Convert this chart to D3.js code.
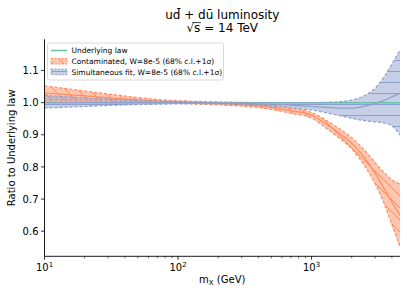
<!DOCTYPE html>
<html>
<head>
<meta charset="utf-8">
<script src="https://cdn.jsdelivr.net/npm/d3@7"></script>
<style>
html,body{margin:0;padding:0;background:#fff;}
svg{display:block;font-family:"DejaVu Sans",sans-serif;}
</style>
</head>
<body>
<svg id="chart" width="407" height="295"></svg>
<script>
// ---- data ----
const masses = [10, 15, 20, 30, 50, 70, 100, 150, 200, 300, 500, 700, 1000, 1300, 1600, 2000, 2500, 3000, 3500, 4000, 4600];
const underlying = [1,1,1,1,1,1,1,1,1,1,1,1,1,1,1,1,1,1,1,1,1];
const contUp  = [1.052,1.043,1.036,1.027,1.016,1.010,1.006,1.003,1.001,0.999,0.992,0.983,0.969,0.944,0.920,0.891,0.852,0.813,0.782,0.760,0.747];
const contMid = [1.030,1.025,1.021,1.015,1.009,1.005,1.002,0.999,0.997,0.994,0.985,0.975,0.961,0.932,0.906,0.874,0.828,0.780,0.733,0.690,0.650];
const contLo  = [1.008,1.007,1.006,1.004,1.002,1.000,0.998,0.995,0.993,0.989,0.979,0.967,0.952,0.919,0.891,0.856,0.803,0.747,0.686,0.620,0.552];
const simUp  = [1.022,1.018,1.015,1.011,1.007,1.005,1.004,1.003,1.002,1.001,1.000,1.000,1.000,1.001,1.003,1.008,1.022,1.045,1.080,1.120,1.164];
const simMid = [1.002,1.001,1.001,1.000,1.000,1.000,1.000,0.999,0.999,0.998,0.995,0.992,0.988,0.985,0.983,0.983,0.989,0.998,1.007,1.018,1.029];
const simLo  = [0.983,0.986,0.988,0.991,0.994,0.995,0.996,0.996,0.996,0.994,0.989,0.984,0.977,0.968,0.960,0.951,0.944,0.940,0.937,0.928,0.899];
const yTicks = [0.6, 0.7, 0.8, 0.9, 1.0, 1.1];
const xTicks = [10, 100, 1000];
const xTickExp = ["1", "2", "3"];
const xMinor = [20,30,40,50,60,70,80,90,200,300,400,500,600,700,800,900,2000,3000,4000];
const legendLabels = ["Underlying law", "Contaminated, W=8e-5 (68% c.l.+1σ)", "Simultaneous fit, W=8e-5 (68% c.l.+1σ)"];

const cGreen = "#66c2a5", cOrange = "#fc8d62", cBlue = "#8da0cb";

const svg = d3.select("#chart");
const L = 44.5, R = 400, T = 39.3, B = 256.3;
const x = d3.scaleLog().domain([10, 4600]).range([L, R]);
const y = d3.scaleLinear().domain([0.522, 1.197]).range([B, T]);

// patterns
const defs = svg.append("defs");
const pO = defs.append("pattern").attr("id","hatchO").attr("patternUnits","userSpaceOnUse")
  .attr("width",12).attr("height",12);
pO.append("rect").attr("width",12).attr("height",12).attr("fill",cOrange).attr("fill-opacity",0.5);
pO.append("path").attr("d","M0,0 L12,12 M-6,6 L6,18 M6,-6 L18,6").attr("stroke",cOrange).attr("stroke-width",1);
const pB = defs.append("pattern").attr("id","hatchB").attr("patternUnits","userSpaceOnUse")
  .attr("width",11).attr("height",11);
pB.append("rect").attr("width",11).attr("height",11).attr("fill",cBlue).attr("fill-opacity",0.5);
pB.append("path").attr("d","M0,5.5 L11,5.5").attr("stroke",cBlue).attr("stroke-width",1);
defs.append("clipPath").attr("id","clip").append("rect").attr("x",L).attr("y",T).attr("width",R-L).attr("height",B-T);

const g = svg.append("g").attr("clip-path","url(#clip)");
const idx = d3.range(masses.length);
const area = (up, lo) => d3.area().x(i => x(masses[i])).y0(i => y(lo[i])).y1(i => y(up[i])).curve(d3.curveMonotoneX)(idx);
const line = arr => d3.line().x(i => x(masses[i])).y(i => y(arr[i])).curve(d3.curveMonotoneX)(idx);

g.append("path").attr("d", area(contUp, contLo)).attr("fill","url(#hatchO)");
g.append("path").attr("d", area(simUp, simLo)).attr("fill","url(#hatchB)");

g.append("path").attr("d", line(underlying)).attr("fill","none").attr("stroke",cGreen).attr("stroke-width",1.5);
[[contUp,"3,2"],[contLo,"3,2"],[contMid,null]].forEach(([a,d]) => {
  g.append("path").attr("d", line(a)).attr("fill","none").attr("stroke",cOrange).attr("stroke-width",1.2)
   .attr("stroke-dasharray", d);
});
[[simUp,"3,2"],[simLo,"3,2"],[simMid,null]].forEach(([a,d]) => {
  g.append("path").attr("d", line(a)).attr("fill","none").attr("stroke",cBlue).attr("stroke-width",1.2)
   .attr("stroke-dasharray", d);
});

// axes
const ax = svg.append("g");
ax.append("line").attr("x1",L).attr("x2",L).attr("y1",T).attr("y2",B).attr("stroke","#000").attr("stroke-width",0.9);
ax.append("line").attr("x1",L).attr("x2",R).attr("y1",B).attr("y2",B).attr("stroke","#000").attr("stroke-width",0.9);
yTicks.forEach(v => {
  ax.append("line").attr("x1",L-3.5).attr("x2",L).attr("y1",y(v)).attr("y2",y(v)).attr("stroke","#000").attr("stroke-width",0.8);
  ax.append("text").attr("x",L-6).attr("y",y(v)).attr("dy","0.36em").attr("text-anchor","end")
    .attr("font-size",10).attr("fill","#000").text(v.toFixed(1));
});
xMinor.forEach(v => {
  ax.append("line").attr("x1",x(v)).attr("x2",x(v)).attr("y1",B).attr("y2",B+2).attr("stroke","#000").attr("stroke-width",0.6);
});
xTicks.forEach((v,i) => {
  ax.append("line").attr("x1",x(v)).attr("x2",x(v)).attr("y1",B).attr("y2",B+3.5).attr("stroke","#000").attr("stroke-width",0.8);
  const t = ax.append("text").attr("x",x(v)).attr("y",270.5).attr("text-anchor","middle").attr("font-size",10).attr("fill","#000");
  t.append("tspan").text("10");
  t.append("tspan").attr("font-size",7).attr("dy",-4).text(xTickExp[i]);
});
const xl = ax.append("text").attr("x",(L+R)/2).attr("y",283).attr("text-anchor","middle").attr("font-size",10).attr("fill","#000");
xl.append("tspan").text("m");
xl.append("tspan").attr("font-size",7).attr("dy",2).text("X");
xl.append("tspan").attr("dy",-2).text(" (GeV)");
ax.append("text").attr("transform",`translate(15,${(T+B)/2}) rotate(-90)`).attr("text-anchor","middle")
  .attr("font-size",10).attr("fill","#000").text("Ratio to Underlying law");

// title
svg.append("text").attr("x",(L+R)/2).attr("y",19).attr("text-anchor","middle").attr("font-size",12).attr("fill","#000")
  .text("ud\u0304 + du\u0304 luminosity");
const t2 = svg.append("text").attr("x",(L+R)/2).attr("y",32).attr("text-anchor","middle").attr("font-size",12).attr("fill","#000")
  .text("\u221As = 14 TeV");
const e0 = t2.node().getExtentOfChar(0), e1 = t2.node().getExtentOfChar(1);
svg.append("line").attr("x1",e0.x+e0.width*0.8).attr("x2",e1.x+e1.width+0.5).attr("y1",e0.y+1.6).attr("y2",e0.y+1.6)
  .attr("stroke","#000").attr("stroke-width",0.8);

// legend
const lg = svg.append("g");
lg.append("rect").attr("x",47.5).attr("y",43).attr("width",176).attr("height",37).attr("rx",2)
  .attr("fill","#fff").attr("fill-opacity",0.8).attr("stroke","#d0d0d0").attr("stroke-width",0.8);
const ly = [50.5, 61.2, 71.9];
lg.append("line").attr("x1",51).attr("x2",67).attr("y1",ly[0]).attr("y2",ly[0]).attr("stroke",cGreen).attr("stroke-width",1.5);
[["url(#hatchO)",cOrange],["url(#hatchB)",cBlue]].forEach(([f,c],i) => {
  lg.append("rect").attr("x",51).attr("y",ly[i+1]-2.8).attr("width",16).attr("height",5.6)
    .attr("fill",f).attr("stroke",c).attr("stroke-width",1).attr("stroke-dasharray","2,1.5");
});
legendLabels.forEach((s,i) => {
  lg.append("text").attr("x",71.5).attr("y",ly[i]).attr("dy","0.35em").attr("font-size",7.5).attr("fill","#000").text(s);
});
</script>
</body>
</html>
